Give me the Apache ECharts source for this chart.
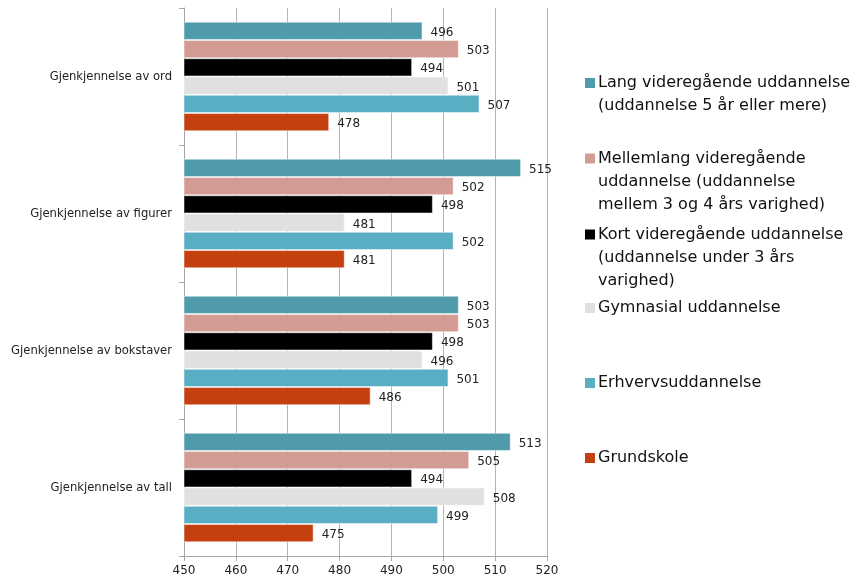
<!DOCTYPE html>
<html>
<head>
<meta charset="utf-8">
<script src="https://cdn.jsdelivr.net/npm/echarts@6/dist/echarts.min.js"></script>
<style>html,body{margin:0;padding:0;background:#fff}#c{width:856px;height:583px}</style>
</head>
<body>
<div id="c"></div>
<script>
var categories = ['Gjenkjennelse av ord', 'Gjenkjennelse av figurer', 'Gjenkjennelse av bokstaver', 'Gjenkjennelse av tall'];
var seriesNames = [
  'Lang videregående uddannelse (uddannelse 5 år eller mere)',
  'Mellemlang videregående uddannelse (uddannelse mellem 3 og 4 års varighed)',
  'Kort videregående uddannelse (uddannelse under 3 års varighed)',
  'Gymnasial uddannelse',
  'Erhvervsuddannelse',
  'Grundskole'
];
var legendLines = [
  ['Lang videregående uddannelse', '(uddannelse 5 år eller mere)'],
  ['Mellemlang videregående', 'uddannelse (uddannelse', 'mellem 3 og 4 års varighed)'],
  ['Kort videregående uddannelse', '(uddannelse under 3 års', 'varighed)'],
  ['Gymnasial uddannelse'],
  ['Erhvervsuddannelse'],
  ['Grundskole']
];
var langValues = [496, 515, 503, 513];
var mellemlangValues = [503, 502, 503, 505];
var kortValues = [494, 498, 498, 494];
var gymnasialValues = [501, 481, 496, 508];
var erhvervValues = [507, 502, 501, 499];
var grundskoleValues = [478, 481, 486, 475];
var xTicks = {min: 450, max: 520, interval: 10};

/* layout & style */
var colors = ['#4f9bab', '#d29c95', '#000000', '#e0e0e0', '#5aaec3', '#c4400f'];
var legendFirstLineCenters = [86.5, 162, 238, 311.5, 386.5, 461.5];
var allValues = [langValues, mellemlangValues, kortValues, gymnasialValues, erhvervValues, grundskoleValues];
var FONT = 'DejaVu Sans';
var LH = 23;

var rich = {
  t: {fontSize: 16, fontFamily: FONT, color: '#111', lineHeight: LH},
  g: {width: 3, lineHeight: LH},
  sp: {width: 13, lineHeight: LH}
};
colors.forEach(function (c, i) {
  rich['sq' + i] = {width: 10, height: 10, backgroundColor: c, lineHeight: LH};
});

var legends = seriesNames.map(function (n, i) {
  return {
    orient: 'vertical',
    left: 579,
    top: legendFirstLineCenters[i] - LH / 2,
    padding: 0,
    itemGap: 0,
    itemWidth: 0,
    itemHeight: 0,
    itemStyle: {opacity: 0},
    selectedMode: false,
    textStyle: {fontFamily: FONT, fontSize: 16, color: '#111', rich: rich},
    data: [n],
    formatter: function (name) {
      var k = seriesNames.indexOf(name);
      return legendLines[k].map(function (l, j) {
        return (j === 0 ? '{sq' + k + '| }{g| }' : '{sp| }') + '{t|' + l + '}';
      }).join('\n');
    }
  };
});

var chart = echarts.init(document.getElementById('c'));
chart.setOption({
  backgroundColor: '#fff',
  animation: false,
  grid: {left: 184, right: 309, top: 8, bottom: 27, containLabel: false},
  legend: legends,
  xAxis: {
    type: 'value',
    min: xTicks.min, max: xTicks.max, interval: xTicks.interval,
    axisLine: {show: true, lineStyle: {color: '#a6a6a6'}},
    axisTick: {show: true, length: 5, lineStyle: {color: '#a6a6a6'}},
    splitLine: {show: true, lineStyle: {color: '#b4b4b4'}},
    axisLabel: {fontFamily: FONT, fontSize: 12, color: '#222', margin: 9}
  },
  yAxis: {
    type: 'category',
    inverse: true,
    data: categories,
    axisLine: {show: true, lineStyle: {color: '#a6a6a6'}},
    axisTick: {show: true, length: 5, lineStyle: {color: '#a6a6a6'}},
    axisLabel: {fontFamily: FONT, fontSize: 11.6, color: '#222', margin: 12}
  },
  series: seriesNames.map(function (n, i) {
    return {
      name: n,
      type: 'bar',
      data: allValues[i],
      barGap: 0,
      barCategoryGap: '20%',
      itemStyle: {color: colors[i], borderColor: 'rgba(255,255,255,0.5)', borderWidth: 1},
      label: {show: true, position: 'right', distance: 8, fontFamily: FONT, fontSize: 12, color: '#222', offset: [0, 2]}
    };
  })
});
</script>
</body>
</html>
